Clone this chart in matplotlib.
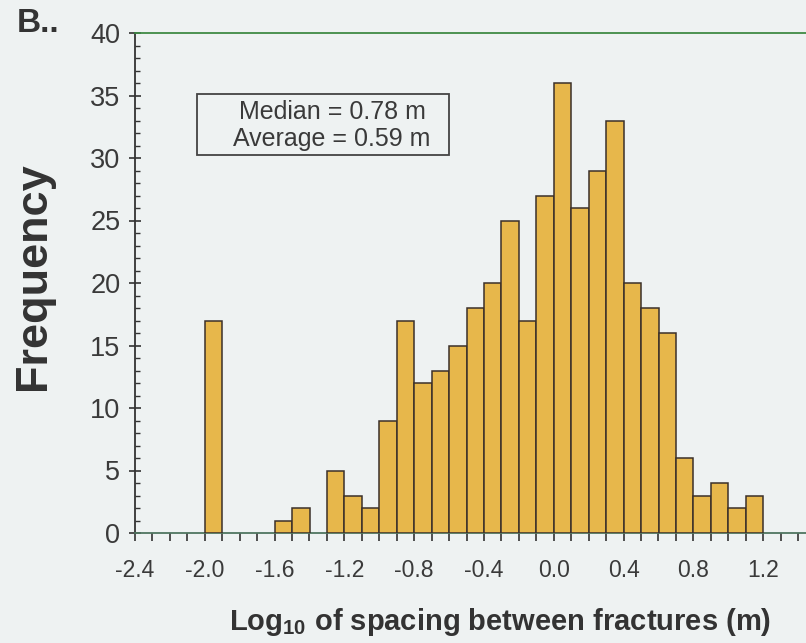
import numpy as np
import matplotlib
matplotlib.use("Agg")
import matplotlib.pyplot as plt
from matplotlib.ticker import MultipleLocator
from matplotlib.patches import Rectangle

plt.rcParams['font.family'] = ['Liberation Sans', 'DejaVu Sans']
plt.rcParams['mathtext.fontset'] = 'custom'
plt.rcParams['mathtext.rm'] = 'Liberation Sans'
plt.rcParams['mathtext.bf'] = 'Liberation Sans:bold'

# histogram bins (left edge, width 0.1) and counts
bin_left = [-2.0, -1.6, -1.5, -1.3, -1.2, -1.1,
            -1.0, -0.9, -0.8, -0.7, -0.6, -0.5, -0.4, -0.3, -0.2, -0.1,
            0.0, 0.1, 0.2, 0.3, 0.4, 0.5, 0.6, 0.7, 0.8, 0.9, 1.0, 1.1]
counts = [17, 1, 2, 5, 3, 2,
          9, 17, 12, 13, 15, 18, 20, 25, 17, 27,
          36, 26, 29, 33, 20, 18, 16, 6, 3, 4, 2, 3]
bin_width = 0.1

xtick_vals = [-2.4, -2.0, -1.6, -1.2, -0.8, -0.4, 0.0, 0.4, 0.8, 1.2]
ytick_vals = [0, 5, 10, 15, 20, 25, 30, 35, 40]

W, H = 806, 643
bg = '#eef2f2'
fig = plt.figure(figsize=(W / 100, H / 100), dpi=100, facecolor=bg)
ax = fig.add_axes([135/W, 110/H, 1 - 135/W, 500/H])
ax.set_facecolor(bg)

ax.bar(bin_left, counts, width=bin_width, align='edge',
       color='#e7b74b', edgecolor='#3b302a', linewidth=1.1, zorder=3)

ax.set_xlim(-2.4, -2.4 + (W - 135) / 174.5)
ax.set_ylim(0, 40)

ax.set_xticks(xtick_vals)
ax.set_xticklabels(['%.1f' % v for v in xtick_vals])
ax.xaxis.set_minor_locator(MultipleLocator(0.1))
ax.set_yticks(ytick_vals)
ax.yaxis.set_minor_locator(MultipleLocator(1))

ax.tick_params(axis='x', which='both', direction='out', length=6, width=1.2,
               color='#333333', labelsize=16.5, labelcolor='#3a3a3a', pad=13)
ax.tick_params(axis='y', which='major', direction='inout', length=9, width=1.2,
               color='#333333', labelsize=19.5, labelcolor='#3a3a3a', pad=6)
ax.tick_params(axis='y', which='minor', direction='in', length=3.5, width=1.0,
               color='#333333')

ax.spines['right'].set_visible(False)
ax.spines['top'].set_color('#3f8a45')
ax.spines['top'].set_linewidth(1.3)
ax.spines['left'].set_color('#333333')
ax.spines['left'].set_linewidth(1.3)
ax.spines['bottom'].set_color('#4f7560')
ax.spines['bottom'].set_linewidth(1.3)

# annotation box
fig.patches.append(Rectangle((197/W, 1 - 155/H), 252/W, 61/H,
                             transform=fig.transFigure, fill=False,
                             ec='#444444', lw=1.3))
fig.text(332/W, 1 - 125.5/H, 'Median = 0.78 m\nAverage = 0.59 m',
         ha='center', va='center', fontsize=18, color='#3a3a3a',
         linespacing=1.12)

fig.text(17/W, 1 - 24/H, 'B..', ha='left', va='center',
         fontsize=24, fontweight='bold', color='#333333')
fig.text(34/W, 1 - 276/H, 'Frequency', rotation=90, ha='center',
         va='center', fontsize=32.5, fontweight='bold', color='#333333')
fig.text(500/W, 1 - 622/H,
         r'Log$_{\mathbf{10}}$ of spacing between fractures (m)',
         ha='center', va='center', fontsize=21, fontweight='bold',
         color='#333333')

fig.savefig('out.png', dpi=100, facecolor=bg)
